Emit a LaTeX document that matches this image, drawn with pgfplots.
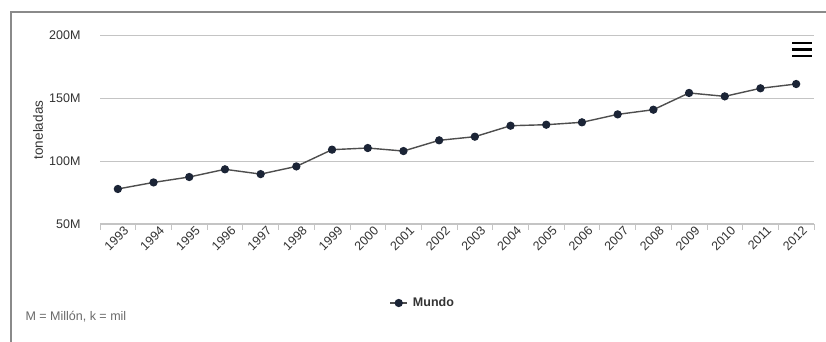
\documentclass[border=0pt]{standalone}
\usepackage{pgfplots}
\pgfplotsset{compat=1.18}
\usepackage{fontspec}
\setmainfont{Liberation Sans}
\definecolor{framec}{HTML}{8A8A8A}
\definecolor{gridc}{HTML}{C4C4C4}
\definecolor{linec}{HTML}{4E4E4E}
\definecolor{markc}{HTML}{1B2436}
\definecolor{txtc}{HTML}{333333}
\definecolor{notec}{HTML}{6A6A6A}
\pgfplotstableread{
x y
0.5 77.8
1.5 83.0
2.5 87.3
3.5 93.4
4.5 89.6
5.5 95.7
6.5 109.0
7.5 110.3
8.5 107.9
9.5 116.4
10.5 119.3
11.5 128.0
12.5 128.8
13.5 130.7
14.5 137.0
15.5 140.7
16.5 154.0
17.5 151.3
18.5 157.7
19.5 161.1
}\mundo
\begin{document}
\begin{tikzpicture}[x=1pt,y=1pt]
\useasboundingbox (0,0) rectangle (826,342);
\fill[white] (0,0) rectangle (826,342);
\draw[framec, line width=2pt] (11,0) -- (11,330) -- (826,330);
\begin{axis}[
  at={(100pt,118pt)}, anchor=south west,
  scale only axis, width=714pt, height=189pt,
  xmin=0, xmax=20, ymin=50, ymax=200,
  separate axis lines,
  axis x line*=bottom, axis y line*=left,
  y axis line style={draw=none},
  x axis line style={gridc, line width=1pt},
  xtick={0,...,20},
  x tick label as interval,
  xticklabels={1993,1994,1995,1996,1997,1998,1999,2000,2001,2002,2003,2004,2005,2006,2007,2008,2009,2010,2011,2012},
  xtick style={gridc, line width=0.8pt},
  tick align=outside,
  major tick length=6pt,
  ytick={50,100,150,200},
  yticklabels={50M,100M,150M,200M},
  ytick style={draw=none},
  ymajorgrids,
  grid style={gridc, line width=0.9pt},
  /pgf/number format/assume math mode=true,
  tick label style={font=\fontsize{12.5}{14}\selectfont, text=txtc},
  yticklabel style={anchor=east, xshift=-10pt},
  xticklabel style={xshift=9pt, yshift=2pt, rotate=45, anchor=east, inner sep=0.5pt},
  legend style={at={(0.452,-0.418)}, anchor=center, draw=none, fill=none,
    font=\fontsize{12.5}{14}\selectfont\bfseries, text=txtc},
  legend cell align=left,
  clip=false,
]
\addplot[linec, line width=1.4pt, mark=*, mark size=3.4pt,
  mark options={fill=markc, draw=markc}] table[x=x,y=y] {\mundo};
\addlegendentry{\hspace{3pt}Mundo}
\end{axis}
\node[rotate=90, text=txtc, font=\fontsize{13.5}{15}\selectfont] at (38,212) {toneladas};
\node[anchor=west, text=notec, font=\fontsize{12.5}{14}\selectfont] at (22,25) {M = Millón, k = mil};
\foreach \yy in {299,292.5,286} {\draw[black, line width=2.6pt] (792,\yy) -- (812,\yy);}
\end{tikzpicture}
\end{document}
